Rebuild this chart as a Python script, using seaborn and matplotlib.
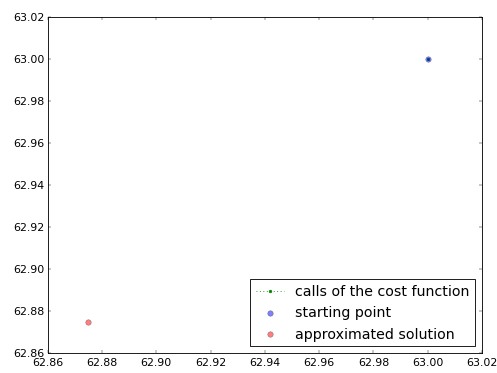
import matplotlib
matplotlib.use("Agg")
import matplotlib.pyplot as plt
import seaborn as sns
import pandas as pd

# Evaluations of the cost function during the search
calls_x = [63.0]
calls_y = [63.0]
# Initial guess and the optimiser's result
start_x = [63.0]
start_y = [63.0]
solution_x = [62.875]
solution_y = [62.875]

x_ticks = [62.86, 62.88, 62.90, 62.92, 62.94, 62.96, 62.98, 63.00, 63.02]
y_ticks = [62.86, 62.88, 62.90, 62.92, 62.94, 62.96, 62.98, 63.00, 63.02]

plt.style.use("classic")
plt.rcParams["legend.numpoints"] = 1
plt.rcParams["legend.scatterpoints"] = 1
plt.rcParams["xtick.labelsize"] = 12.8
plt.rcParams["ytick.labelsize"] = 12.8

fig, ax = plt.subplots(figsize=(8, 6.02), dpi=62.125)
fig.subplots_adjust(left=0.096, right=0.970, top=0.952, bottom=0.053)

calls = pd.DataFrame({"x": calls_x, "y": calls_y})
sns.lineplot(data=calls, x="x", y="y", ax=ax, color="g", marker=".",
             linestyle=":", markersize=6, markeredgecolor="g",
             sort=False, estimator=None, label="calls of the cost function",
             zorder=2)

start = pd.DataFrame({"x": start_x, "y": start_y})
sns.scatterplot(data=start, x="x", y="y", ax=ax, color="b", alpha=0.5,
                s=40, edgecolor="k", linewidth=0.5, label="starting point",
                zorder=3)

sol = pd.DataFrame({"x": solution_x, "y": solution_y})
sns.scatterplot(data=sol, x="x", y="y", ax=ax, color="r", alpha=0.5,
                s=40, edgecolor="k", linewidth=0.5,
                label="approximated solution", zorder=3)

ax.set_xlim(x_ticks[0], x_ticks[-1])
ax.set_ylim(y_ticks[0], y_ticks[-1])
ax.set_xticks(x_ticks)
ax.set_yticks(y_ticks)
ax.set_xticklabels([f"{t:.2f}" for t in x_ticks])
ax.set_yticklabels([f"{t:.2f}" for t in y_ticks])
ax.set_xlabel("")
ax.set_ylabel("")
ax.legend(loc="lower right", fontsize=16.3)

fig.savefig("out.png", dpi=62.125)
